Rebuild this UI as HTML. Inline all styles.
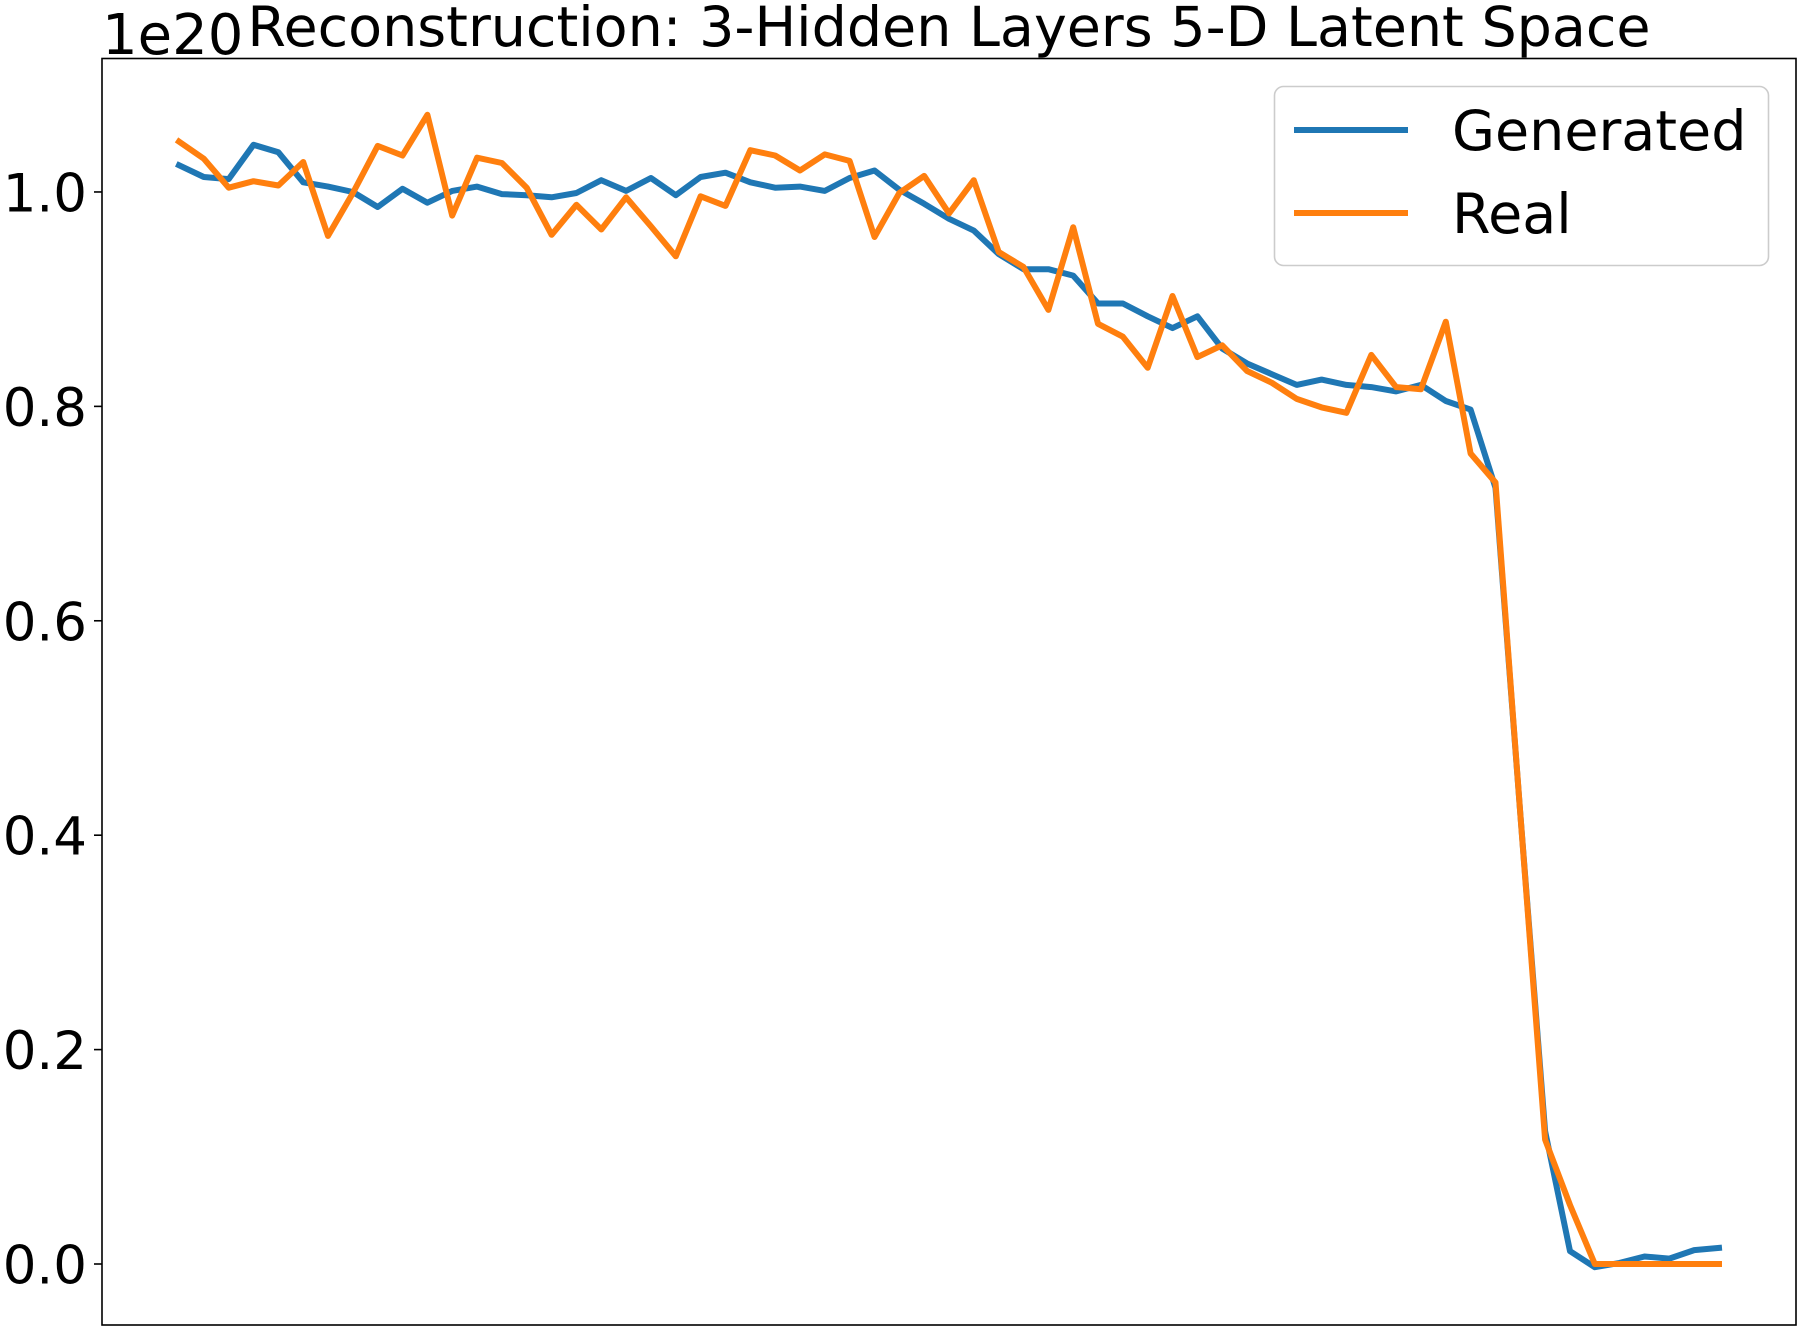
<!DOCTYPE html>
<html><head><meta charset="utf-8"><style>
html,body{margin:0;padding:0;background:#fff;}
svg{display:block;font-family:"DejaVu Sans","Liberation Sans",sans-serif;}
</style></head><body>
<svg id="chart" width="1800" height="1334" viewBox="0 0 1800 1334">
<rect x="0" y="0" width="1800" height="1334" fill="#fff"/>
<text x="949" y="46" font-size="55.5" text-anchor="middle">Reconstruction: 3-Hidden Layers 5-D Latent Space</text>
<text x="102" y="54" font-size="56">1e20</text>
<g id="yticks"></g>
<g id="series"></g>
<rect x="102" y="58.5" width="1694" height="1266.5" fill="none" stroke="#000" stroke-width="1.6"/>
<g>
<rect x="1274.5" y="86.5" width="494" height="179" rx="9" fill="#fff" fill-opacity="0.8" stroke="#ccc" stroke-width="1.6"/>
<line x1="1294" y1="130" x2="1408" y2="130" stroke="#1f77b4" stroke-width="6"/>
<text x="1452" y="150" font-size="55.5">Generated</text>
<line x1="1294" y1="213" x2="1408" y2="213" stroke="#ff7f0e" stroke-width="6"/>
<text x="1452" y="233" font-size="55.5">Real</text>
</g>
</svg>
<script>
const generated = [1.025,1.014,1.012,1.044,1.037,1.009,1.005,1.000,0.986,1.003,0.990,1.001,1.005,0.998,0.997,0.995,0.999,1.011,1.001,1.013,0.997,1.014,1.018,1.009,1.004,1.005,1.001,1.013,1.020,1.002,0.989,0.975,0.964,0.942,0.928,0.928,0.922,0.896,0.896,0.884,0.873,0.884,0.854,0.840,0.830,0.820,0.825,0.820,0.818,0.814,0.820,0.805,0.797,0.724,0.42,0.124,0.012,-0.003,0.001,0.007,0.005,0.013,0.015];
const real = [1.047,1.031,1.004,1.010,1.006,1.028,0.959,0.999,1.043,1.034,1.072,0.978,1.032,1.027,1.004,0.960,0.988,0.965,0.995,0.968,0.940,0.996,0.987,1.039,1.034,1.020,1.035,1.029,0.958,0.999,1.015,0.980,1.011,0.944,0.930,0.890,0.967,0.877,0.865,0.836,0.903,0.846,0.857,0.833,0.822,0.807,0.799,0.794,0.848,0.818,0.816,0.879,0.756,0.729,0.42,0.116,0.055,0,0,0,0,0,0];
const yTicks = [0.0,0.2,0.4,0.6,0.8,1.0];
const yTickLabels = ["0.0","0.2","0.4","0.6","0.8","1.0"];

const NS = "http://www.w3.org/2000/svg";
const L = 102, R = 1796, T = 58.5, B = 1325;
const n = real.length;
const xMin = -0.05*(n-1), xMax = (n-1)*1.05;
function xs(i){ return L + (i - xMin)/(xMax - xMin)*(R - L); }
const yMin = -0.0569, yMax = 1.1245;
function ys(v){ return B - (v - yMin)/(yMax - yMin)*(B - T); }

const yg = document.getElementById('yticks');
yTicks.forEach((t,k)=>{
  const y = ys(t);
  const ln = document.createElementNS(NS,'line');
  ln.setAttribute('x1',L-8); ln.setAttribute('x2',L); ln.setAttribute('y1',y); ln.setAttribute('y2',y);
  ln.setAttribute('stroke','#000'); ln.setAttribute('stroke-width','1.6');
  
  
  yg.appendChild(ln);
  const tx = document.createElementNS(NS,'text');
  tx.setAttribute('x',L-15); tx.setAttribute('y',y+19.5);
  tx.setAttribute('font-size','53'); tx.setAttribute('text-anchor','end');
  tx.textContent = yTickLabels[k];
  
  
  yg.appendChild(tx);
});

const sg = document.getElementById('series');
function drawLine(vals, color, name){
  const p = document.createElementNS(NS,'polyline');
  p.setAttribute('points', vals.map((v,i)=>xs(i).toFixed(1)+','+ys(v).toFixed(1)).join(' '));
  p.setAttribute('fill','none'); p.setAttribute('stroke',color);
  p.setAttribute('stroke-width','6'); p.setAttribute('stroke-linejoin','round'); p.setAttribute('stroke-linecap','square');
  
  
  sg.appendChild(p);
}
drawLine(generated,'#1f77b4','generated-line');
drawLine(real,'#ff7f0e','real-line');
</script>
</body></html>
